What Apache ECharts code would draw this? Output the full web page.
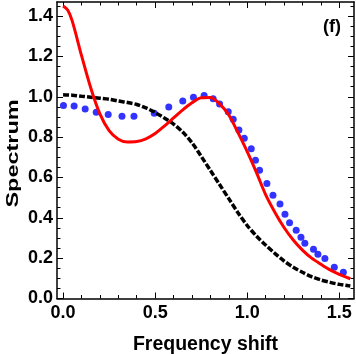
<!DOCTYPE html>
<html>
<head>
<meta charset="utf-8">
<script src="https://cdn.jsdelivr.net/npm/echarts@6/dist/echarts.min.js"></script>
<style>html,body{margin:0;padding:0;background:#fff;}#c{width:356px;height:354px;}</style>
</head>
<body>
<div id="c"></div>
<script>
// ---- data ----
const curveX = [0.00,0.025,0.05,0.10,0.15,0.20,0.25,0.30,0.35,0.40,0.45,0.50,0.55,0.60,0.65,0.70,0.75,0.80,0.85,0.90,0.95,1.00,1.05,1.10,1.15,1.20,1.25,1.30,1.35,1.40,1.45,1.50,1.56];
const redY = [1.45,1.43,1.375,1.205,1.045,0.915,0.832,0.79,0.776,0.778,0.792,0.818,0.855,0.895,0.935,0.97,0.995,0.997,0.965,0.91,0.822,0.728,0.625,0.515,0.428,0.352,0.29,0.24,0.2,0.17,0.142,0.12,0.098];
const blackY = [1.01,1.009,1.008,1.003,0.998,0.993,0.988,0.979,0.972,0.962,0.945,0.922,0.895,0.865,0.825,0.772,0.705,0.635,0.565,0.495,0.425,0.362,0.31,0.265,0.224,0.186,0.155,0.13,0.108,0.092,0.08,0.07,0.062];
const dotX = [0.002,0.06,0.12,0.18,0.245,0.32,0.385,0.495,0.574,0.65,0.708,0.766,0.815,0.85,0.897,0.924,0.955,0.984,1.022,1.045,1.067,1.107,1.14,1.178,1.205,1.23,1.266,1.292,1.313,1.36,1.384,1.422,1.473,1.522,1.585];
const dotY = [0.957,0.955,0.94,0.924,0.912,0.904,0.904,0.919,0.949,0.979,0.998,1.006,0.99,0.964,0.926,0.889,0.836,0.795,0.743,0.686,0.636,0.57,0.512,0.469,0.418,0.376,0.338,0.304,0.274,0.244,0.219,0.198,0.155,0.13,0.11];
const xMajor = [0, 0.5, 1.0, 1.5];
const xMinor = [0.1,0.2,0.3,0.4,0.6,0.7,0.8,0.9,1.1,1.2,1.3,1.4];
const yMajor = [0, 0.2, 0.4, 0.6, 0.8, 1.0, 1.2, 1.4];
const yMinor = [0.05,0.1,0.15,0.25,0.3,0.35,0.45,0.5,0.55,0.65,0.7,0.75,0.85,0.9,0.95,1.05,1.1,1.15,1.25,1.3,1.35,1.45];
const xLabel = 'Frequency shift';
const yLabel = 'Spectrum';
const panelTag = '(f)';

const FONT = 'Liberation Sans';
const X_MIN = -0.033, X_MAX = 1.58, Y_MIN = 0, Y_MAX = 1.47;

function zip(a, b) { return a.map((v, i) => [v, b[i]]); }

function xAxis(pos, vals, len, main) {
  return {
    type: 'value', position: pos, min: X_MIN, max: X_MAX,
    axisLine: { show: main, onZero: false, lineStyle: { color: '#000', width: 1.5 } },
    axisTick: { show: true, inside: true, length: len, customValues: vals, lineStyle: { color: '#000', width: 1 } },
    axisLabel: (main && pos === 'bottom') ? {
      show: true, customValues: xMajor, color: '#000', fontFamily: FONT, fontWeight: 'bold', fontSize: 18, margin: 6,
      formatter: v => v.toFixed(1)
    } : { show: false },
    splitLine: { show: false },
    name: (main && pos === 'bottom') ? xLabel : '',
    nameLocation: 'middle', nameGap: 36,
    nameTextStyle: { color: '#000', fontFamily: FONT, fontWeight: 'bold', fontSize: 19.5 }
  };
}
function yAxis(pos, vals, len, main) {
  return {
    type: 'value', position: pos, min: Y_MIN, max: Y_MAX,
    axisLine: { show: main, onZero: false, lineStyle: { color: '#000', width: 1.5 } },
    axisTick: { show: true, inside: true, length: len, customValues: vals, lineStyle: { color: '#000', width: 1 } },
    axisLabel: (main && pos === 'left') ? {
      show: true, customValues: yMajor, color: '#000', fontFamily: FONT, fontWeight: 'bold', fontSize: 18, margin: 4,
      formatter: v => v.toFixed(1)
    } : { show: false },
    splitLine: { show: false }
  };
}

const chart = echarts.init(document.getElementById('c'), null, { renderer: 'canvas' });
chart.setOption({
  animation: false,
  backgroundColor: '#fff',
  grid: { left: 57, right: 2, top: 2, bottom: 55.5, containLabel: false, outerBoundsMode: 'none' },
  title: { text: panelTag, right: 10, top: 13, textStyle: { fontFamily: FONT, fontWeight: 'bold', fontSize: 18, color: '#000' } },
  graphic: [{
    type: 'text', x: 13, y: 153.5, rotation: Math.PI / 2, scaleX: 1.38, scaleY: 1,
    style: { text: yLabel, font: 'bold 17px "Liberation Sans"', fill: '#000', align: 'center', verticalAlign: 'middle' }
  }],
  xAxis: [
    xAxis('bottom', xMajor, 6, true),
    xAxis('bottom', xMinor, 3.5, false),
    xAxis('top', xMajor, 6, true),
    xAxis('top', xMinor, 3.5, false)
  ],
  yAxis: [
    yAxis('left', yMajor, 6, true),
    yAxis('left', yMinor, 3.5, false),
    yAxis('right', yMajor, 6, true),
    yAxis('right', yMinor, 3.5, false)
  ],
  series: [
    { type: 'line', data: zip(curveX, blackY), smooth: 0.3, showSymbol: false, clip: true,
      lineStyle: { color: '#000', width: 3.5, type: [6, 2] } },
    { type: 'line', data: zip(curveX, redY), smooth: 0.3, showSymbol: false, clip: true,
      lineStyle: { color: '#ff0000', width: 3 } },
    { type: 'scatter', data: zip(dotX, dotY), symbol: 'circle', symbolSize: 7, clip: true,
      itemStyle: { color: '#0000ff' } }
  ]
});
</script>
</body>
</html>
